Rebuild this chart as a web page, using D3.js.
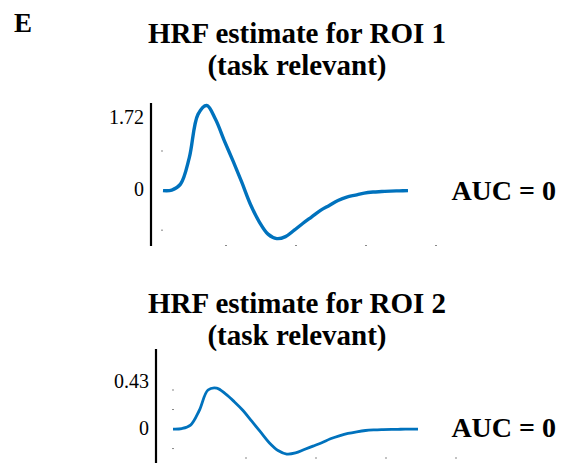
<!DOCTYPE html>
<html>
<head>
<meta charset="utf-8">
<script src="https://cdn.jsdelivr.net/npm/d3@7"></script>
<style>
  body { margin: 0; background: #fff; }
  svg { display: block; font-family: "Liberation Serif", "Times New Roman", serif; }
</style>
</head>
<body>
<div id="chart"></div>
<script>
// sample times (s), one every 1.25 s
var time = [1, 2.25, 3.5, 4.75, 6, 7.25, 8.5, 9.75, 11, 12.25, 13.5, 14.75, 16, 17.25, 18.5,
            19.75, 21, 22.25, 23.5, 24.75, 26, 27.25, 28.5, 29.75, 31, 32.25, 33.5, 34.75, 36];

var roi1 = [0, 0.01, 0.13, 0.66, 1.54, 1.72, 1.44, 1.01, 0.60, 0.17, -0.28, -0.63, -0.88, -0.97, -0.93,
            -0.80, -0.66, -0.53, -0.40, -0.30, -0.20, -0.13, -0.09, -0.05, -0.03, -0.02, -0.01, -0.005, 0];

var roi2 = [0, 0.005, 0.04, 0.19, 0.40, 0.42, 0.36, 0.28, 0.19, 0.08, -0.03, -0.14, -0.22, -0.256, -0.245,
            -0.21, -0.175, -0.14, -0.10, -0.07, -0.045, -0.028, -0.015, -0.009, -0.006, -0.004, -0.002, -0.001, 0];

var titles = [["HRF estimate for ROI 1", "(task relevant)"], ["HRF estimate for ROI 2", "(task relevant)"]];
var aucLabels = ["AUC = 0", "AUC = 0"];
var yLabels = [["1.72", "0"], ["0.43", "0"]];
var yLabelValues = [[1.72, 0], [0.43, 0]];
var yMinorTicks = [[-0.8, 0.8], [-0.2, 0.2, 0.4]];
var xTicks = [10, 20, 30, 40];

var width = 562, height = 463;
var blue = "#0072bd";

var svg = d3.select("#chart").append("svg")
    .attr("width", width)
    .attr("height", height);

svg.append("text")
    .attr("x", 14).attr("y", 32)
    .attr("font-size", 27).attr("font-weight", "bold")
    .text("E");

// panel layout
var panels = [
    { values: roi1, xRange: [163, 408], yDomain: [-1.12, 1.77], yRange: [246, 103],
      axisX: 151, titleY: 43, aucY: 200, labelX: 144, labelDy: [19, 5], dotX: 162, xDotY: 245.5, width: 3.4 },
    { values: roi2, xRange: [173, 418], yDomain: [-0.348, 0.82], yRange: [463, 349],
      axisX: 156, titleY: 313, aucY: 437, labelX: 149, labelDy: [1, 6], dotX: 173, xDotY: 458, width: 2.8 }
];

panels.forEach(function(p, i) {
    var x = d3.scaleLinear().domain([time[0], time[time.length - 1]]).range(p.xRange);
    var y = d3.scaleLinear().domain(p.yDomain).range(p.yRange);
    var g = svg.append("g");

    g.append("text")
        .attr("x", 297).attr("y", p.titleY)
        .attr("text-anchor", "middle")
        .attr("font-size", 29).attr("font-weight", "bold")
        .selectAll("tspan")
        .data(titles[i])
        .enter().append("tspan")
        .attr("x", 297)
        .attr("dy", function(d, j) { return j ? 32 : 0; })
        .text(function(d) { return d; });

    // y axis line
    g.append("line")
        .attr("x1", p.axisX).attr("x2", p.axisX)
        .attr("y1", p.yRange[1]).attr("y2", p.yRange[0])
        .attr("stroke", "#000").attr("stroke-width", 2.2);

    // faint tick marks
    g.selectAll(".ydot")
        .data(yMinorTicks[i])
        .enter().append("rect")
        .attr("x", p.dotX - 1).attr("y", function(d) { return y(d) - 0.5; })
        .attr("width", 2).attr("height", 1)
        .attr("fill", "#888");

    g.selectAll(".xdot")
        .data(xTicks)
        .enter().append("rect")
        .attr("x", function(d) { return x(d + (i ? 10 / 7 : 0)) - 1; })
        .attr("y", p.xDotY - 0.5)
        .attr("width", 2).attr("height", 1)
        .attr("fill", "#888");

    g.selectAll(".ylab")
        .data(yLabels[i])
        .enter().append("text")
        .attr("x", p.labelX)
        .attr("y", function(d, j) { return y(yLabelValues[i][j]) + p.labelDy[j]; })
        .attr("text-anchor", "end")
        .attr("font-size", 20)
        .text(function(d) { return d; });

    var line = d3.line()
        .curve(d3.curveCatmullRom.alpha(0.5))
        .x(function(d, j) { return x(time[j]); })
        .y(function(d) { return y(d); });

    g.append("path")
        .datum(p.values)
        .attr("fill", "none")
        .attr("stroke", blue)
        .attr("stroke-width", p.width)
        .attr("stroke-linejoin", "round")
        .attr("d", line);

    g.append("text")
        .attr("x", 556).attr("y", p.aucY)
        .attr("text-anchor", "end")
        .attr("font-size", 28).attr("font-weight", "bold")
        .text(aucLabels[i]);
});
</script>
</body>
</html>
